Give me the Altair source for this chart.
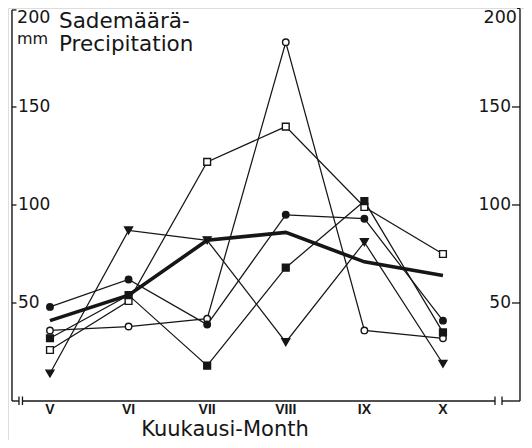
import altair as alt
import pandas as pd

# ---- data ----
months = ["V", "VI", "VII", "VIII", "IX", "X"]
filled_circle = [48, 62, 39, 95, 93, 41]
open_circle = [36, 38, 42, 183, 36, 32]
open_square = [26, 51, 122, 140, 99, 75]
filled_square = [32, 54, 18, 68, 102, 35]
triangle_down = [14, 87, 82, 30, 81, 19]
mean_line = [41, 54, 82, 86, 71, 64]
y_ticks = [50, 100, 150]

# ---- layout helpers (scale geometry) ----
W, H = 516, 432
PX_X = 1 / 78.6          # one pixel in x-index units
PX_Y = 1 / 1.96          # one pixel in y-value units
X_DOM = [-0.534, 6.031]
Y_DOM = [-19.9, 200.5]
X_LEFT = -0.4835
X_RIGHT = 5.98
INK = "#161616"
FONT = "DejaVu Sans"

xs = alt.Scale(domain=X_DOM, nice=False, zero=False)
ys = alt.Scale(domain=Y_DOM, nice=False, zero=False)


def X(field="i"):
    return alt.X(f"{field}:Q", scale=xs, axis=None)


def Y(field="v"):
    return alt.Y(f"{field}:Q", scale=ys, axis=None)


def series_df(vals, name):
    return pd.DataFrame({"i": list(range(len(months))), "v": vals, "s": name})


marker_series = [
    ("open_circle", open_circle, "circle", "white", 42),
    ("open_square", open_square, "square", "white", 46),
    ("filled_circle", filled_circle, "circle", INK, 42),
    ("filled_square", filled_square, "square", INK, 46),
    ("triangle_down", triangle_down, "triangle-down", INK, 62),
]

all_thin = pd.concat([series_df(v, n) for n, v, *_ in marker_series])

layers = []

# ---- frame ----
h_segs = pd.DataFrame({
    "x": [X_LEFT, X_LEFT + 10.5 * PX_X, X_RIGHT - 18 * PX_X],
    "x2": [X_LEFT + 7 * PX_X, X_RIGHT - 25 * PX_X, X_RIGHT],
    "y": [0, 0, 0],
})
layers.append(alt.Chart(h_segs).mark_rule(color=INK, strokeWidth=1.4).encode(
    x=X("x"), x2="x2:Q", y=Y("y")))

breaks = pd.DataFrame({
    "x": [X_LEFT + 7 * PX_X, X_LEFT + 10.5 * PX_X, X_RIGHT - 25 * PX_X, X_RIGHT - 18 * PX_X],
    "y": [-4 * PX_Y] * 4, "y2": [4.5 * PX_Y] * 4,
})
layers.append(alt.Chart(breaks).mark_rule(color=INK, strokeWidth=1.3).encode(
    x=X("x"), y=Y("y"), y2="y2:Q"))

v_axes = pd.DataFrame({"x": [X_LEFT, X_RIGHT], "y": [0, 0], "y2": [199.5, 200.3]})
layers.append(alt.Chart(v_axes).mark_rule(color=INK, strokeWidth=1.4).encode(
    x=X("x"), y=Y("y"), y2="y2:Q"))

ticks_l = pd.DataFrame({"x": X_LEFT, "x2": X_LEFT + 4.5 * PX_X, "y": y_ticks + [199.5]})
ticks_r = pd.DataFrame({"x": X_RIGHT - 8 * PX_X, "x2": X_RIGHT, "y": y_ticks})
top_r = pd.DataFrame({"x": [X_RIGHT - 3 * PX_X], "x2": [X_RIGHT], "y": [200.3]})
for d in (ticks_l, ticks_r, top_r):
    layers.append(alt.Chart(d).mark_rule(color=INK, strokeWidth=1.3).encode(
        x=X("x"), x2="x2:Q", y=Y("y")))

# tick labels
lab_l = pd.DataFrame({"x": X_LEFT + 6 * PX_X, "y": y_ticks, "t": [str(t) for t in y_ticks]})
lab_r = pd.DataFrame({"x": X_RIGHT - 9 * PX_X, "y": y_ticks, "t": [str(t) for t in y_ticks]})
layers.append(alt.Chart(lab_l).mark_text(align="left", baseline="middle", font=FONT,
                                         fontSize=17, color=INK).encode(
    x=X("x"), y=Y("y"), text="t:N"))
layers.append(alt.Chart(lab_r).mark_text(align="right", baseline="middle", font=FONT,
                                         fontSize=17, color=INK).encode(
    x=X("x"), y=Y("y"), text="t:N"))

# month labels
mdf = pd.DataFrame({"i": list(range(len(months))), "m": months, "y": -4.4})
layers.append(alt.Chart(mdf).mark_text(align="center", baseline="middle",
                                       font="Liberation Sans", fontWeight="bold",
                                       fontSize=14, color=INK).encode(
    x=X("i"), y=Y("y"), text="m:N"))

# ---- data lines ----
layers.append(alt.Chart(all_thin).mark_line(color=INK, strokeWidth=1.25).encode(
    x=X("i"), y=Y("v"), detail="s:N"))
layers.append(alt.Chart(series_df(mean_line, "mean")).mark_line(
    color=INK, strokeWidth=3.6, strokeJoin="miter").encode(x=X("i"), y=Y("v")))

for name, vals, shape, fill, size in marker_series:
    layers.append(alt.Chart(series_df(vals, name)).mark_point(
        shape=shape, filled=True, fill=fill, stroke=INK, strokeWidth=1.4,
        size=size, opacity=1).encode(x=X("i"), y=Y("v")))

# ---- titles / annotations ----
def txt(t, x, y, size, align="left", weight="normal", font=FONT):
    return alt.Chart(pd.DataFrame({"t": [t]})).mark_text(
        align=align, baseline="middle", font=font, fontSize=size,
        fontWeight=weight, color=INK).encode(
        x=alt.value(x), y=alt.value(y), text="t:N")

layers.append(txt("Sademäärä-", 51, 14, 21.5))
layers.append(txt("Precipitation", 51, 37, 21.5))
layers.append(txt("200", 9, 10, 17.5))
layers.append(txt("mm", 9, 31, 16))
layers.append(txt("200", 509, 10, 17.5, align="right"))
layers.append(txt("Kuukausi-Month", 217, 422, 21, align="center"))

chart = alt.layer(*layers).properties(
    width=W, height=H, autosize=alt.AutoSizeParams(type="none"),
    padding=0,
).configure_view(stroke=None).configure(background="white")

chart.save("out.html", embed_options={"renderer": "svg", "actions": False})
